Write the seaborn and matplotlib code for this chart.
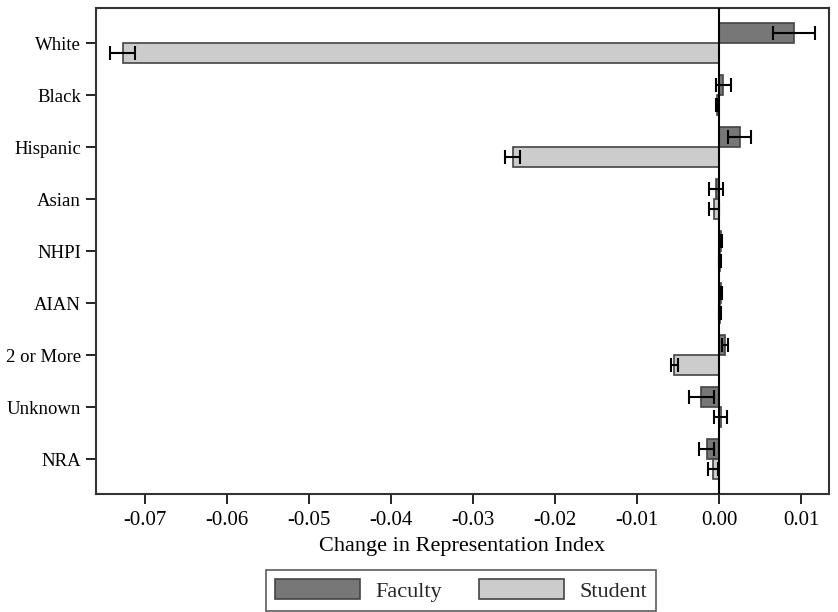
import matplotlib
matplotlib.use("Agg")
import matplotlib.pyplot as plt
import seaborn as sns
import pandas as pd
import numpy as np
from matplotlib.patches import Patch

# Race / ethnicity categories
categories = ["White", "Black", "Hispanic", "Asian", "NHPI", "AIAN",
              "2 or More", "Unknown", "NRA"]

# Change in representation index and error half-widths
faculty_change = [0.0091, 0.0005, 0.0025, -0.0004, 0.0002, 0.0002, 0.0007, -0.0022, -0.00155]
faculty_err = [0.0026, 0.0009, 0.0014, 0.0009, 0.0001, 0.0001, 0.0004, 0.0015, 0.0009]
student_change = [-0.0727, -0.0003, -0.0252, -0.0007, 0.00005, 0.0001, -0.0055, 0.00015, -0.0008]
student_err = [0.0015, 0.0001, 0.0009, 0.0006, 0.0001, 0.0001, 0.0004, 0.00075, 0.0006]

groups = ["Faculty", "Student"]
fill = {"Faculty": "#777777", "Student": "#cccccc"}
edge = "#444444"

df = pd.DataFrame({
    "Category": categories * 2,
    "Group": ["Faculty"] * len(categories) + ["Student"] * len(categories),
    "Change": faculty_change + student_change,
})
errs = {"Faculty": faculty_err, "Student": student_err}
vals = {"Faculty": faculty_change, "Student": student_change}

sns.set_style("white")
plt.rcParams["font.family"] = ["Liberation Serif", "DejaVu Serif"]
plt.rcParams["axes.unicode_minus"] = False

fig = plt.figure(figsize=(8.38, 6.12), dpi=100)
ax = fig.add_axes([0.1142, 0.1928, 0.8751, 0.7941])

sns.barplot(data=df, y="Category", x="Change", hue="Group", order=categories,
            hue_order=groups, palette=fill, orient="h", width=0.78, gap=0,
            edgecolor=edge, linewidth=1.2, errorbar=None, legend=False, ax=ax)

# error bars drawn at each bar's centre
for cont, g in zip(ax.containers, groups):
    ys = [p.get_y() + p.get_height() / 2 for p in cont.patches]
    ax.errorbar(vals[g], ys, xerr=errs[g], fmt="none", ecolor="black",
                elinewidth=1.5, capsize=5, capthick=1.5, zorder=5)

ax.axvline(0, color="black", lw=1.5, zorder=6)

ticks = np.arange(-0.07, 0.0101, 0.01)
ax.set_xlim(-0.0760, 0.01336)
ax.set_ylim(8.673, -0.673)
ax.set_xticks(ticks)
ax.set_xticklabels([f"{t:.2f}" for t in ticks])
ax.set_xlabel("Change in Representation Index", fontsize=16, color="black", labelpad=5)
ax.set_ylabel("")
ax.tick_params(axis="both", which="major", direction="out", length=7, width=1.2,
               color="black", labelcolor="black", bottom=True, left=True)
ax.tick_params(axis="x", labelsize=15, pad=5)
ax.tick_params(axis="y", labelsize=13.5)
for s in ax.spines.values():
    s.set_color("#333333")
    s.set_linewidth(1.5)

handles = [Patch(facecolor=fill[g], edgecolor=edge, linewidth=1.2, label=g) for g in groups]
leg = fig.legend(handles=handles, loc="center", bbox_to_anchor=(0.5503, 0.035),
                 ncol=2, frameon=True, fancybox=False, fontsize=16,
                 handlelength=3.8, handleheight=1.0, columnspacing=1.7,
                 handletextpad=0.7, borderpad=0.4)
leg.get_frame().set_edgecolor("#333333")
leg.get_frame().set_linewidth(1.2)

fig.savefig("out.png", dpi=100)
